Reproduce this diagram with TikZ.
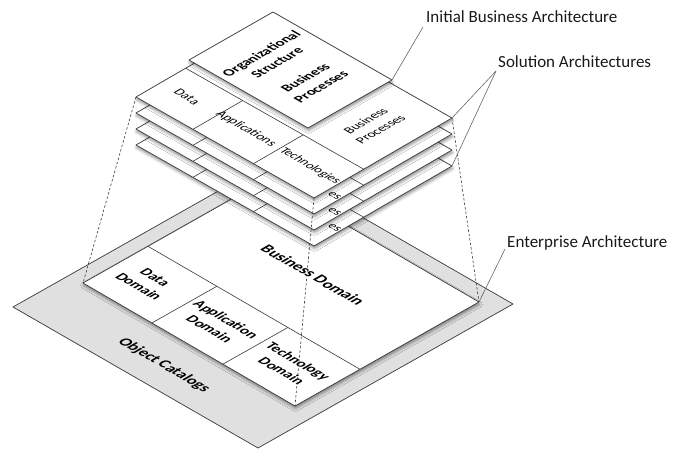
\documentclass[tikz,border=0pt]{standalone}
\usepackage{fontspec}
\setmainfont{Carlito}
\usetikzlibrary{calc,shadows.blur}

\definecolor{rim}{gray}{0.22}
\definecolor{catalog}{gray}{0.88}
\definecolor{leader}{gray}{0.40}

\tikzset{
  plate/.style={fill=white, draw=rim, line width=0.7pt, line join=round},
  catplate/.style={fill=catalog, draw=rim, line width=0.7pt, line join=round},
  soft/.style={blur shadow={shadow xshift=0.5pt, shadow yshift=-2.5pt,
      shadow blur radius=3pt, shadow opacity=45}},
  cell/.style={draw=rim, line width=0.6pt},
  isodown/.style={cm={0.866,-0.5,0.866,0.5,(0,0)}, inner sep=0pt, align=center},
  isoup/.style={cm={0.866,0.5,-0.866,0.5,(0,0)}, inner sep=0pt, align=center},
  projection/.style={draw=rim, line width=0.6pt, dash pattern=on 2.5pt off 2pt},
  leaderline/.style={draw=leader, line width=0.6pt},
  callout/.style={font=\fontsize{17}{20}\selectfont, text=black!90, inner sep=0pt},
  domfont/.style={font=\bfseries\fontsize{14.5}{19}\selectfont},
  solfont/.style={font=\fontsize{13}{17}\selectfont},
  inifont/.style={font=\bfseries\fontsize{14}{18}\selectfont},
}

\begin{document}
\begin{tikzpicture}[x=1pt,y=-1pt]
\useasboundingbox (0,0) rectangle (685,452);

% ---- object catalog base ----
\coordinate (GT) at (268,163);
\coordinate (GR) at (513,304);
\coordinate (GB) at (258,448);
\coordinate (GL) at (13,307);
\path[catplate] (GT) -- (GR) -- (GB) -- (GL) -- cycle;
\node[isodown, font=\bfseries\fontsize{15.5}{19}\selectfont] (catalogs) at (164,365) {Object Catalogs};

% ---- enterprise architecture plate ----
\coordinate (ET) at (267,179);
\coordinate (ER) at (479,302);
\coordinate (EB) at (295,406);
\coordinate (EL) at (83,283);
\path[plate, soft] (ET) -- (ER) -- (EB) -- (EL) -- cycle;
\coordinate (Ea) at ($(ET)!0.647!(EL)$);
\coordinate (Eb) at ($(ER)!0.647!(EB)$);
\draw[cell] (Ea) -- (Eb);
\draw[cell] ($(EL)!0.325!(EB)$) -- ($(Ea)!0.325!(Eb)$);
\draw[cell] ($(EL)!0.66!(EB)$) -- ($(Ea)!0.66!(Eb)$);
\node[isodown, font=\bfseries\fontsize{16}{19}\selectfont] (busdom) at (313,275) {Business Domain};
\node[isodown, domfont] (datadom) at (147,282) {Data\\Domain};
\node[isodown, domfont] (appdom) at (218,324) {Application\\Domain};
\node[isodown, domfont] (techdom) at (290,366) {Technology\\Domain};

% ---- stacked solution architectures (only the top one is fully visible) ----
\foreach \k in {3,2,1,0}{
  \begin{scope}[shift={(0,16*\k)}]
    \coordinate (S\k-T) at (274,17);
    \coordinate (S\k-R) at (452,118);
    \coordinate (S\k-B) at (314,198);
    \coordinate (S\k-L) at (136,97);
    \path[plate, soft] (S\k-T) -- (S\k-R) -- (S\k-B) -- (S\k-L) -- cycle;
    \coordinate (S\k-a) at ($(S\k-T)!0.64!(S\k-L)$);
    \coordinate (S\k-b) at ($(S\k-R)!0.64!(S\k-B)$);
    \draw[cell] (S\k-a) -- (S\k-b);
    \draw[cell] ($(S\k-L)!0.32!(S\k-B)$) -- ($(S\k-a)!0.32!(S\k-b)$);
    \draw[cell] ($(S\k-L)!0.66!(S\k-B)$) -- ($(S\k-a)!0.66!(S\k-b)$);
    \ifnum\k=0
      \node[isodown, solfont] (data\k) at (187,97) {Data};
      \node[isodown, solfont] (apps\k) at (246,129) {Applications};
      \node[isodown, font=\fontsize{12.5}{17}\selectfont] (tech\k) at (310,166) {Technologies};
      \node[isoup, solfont] (proc\k) at (373,125) {Business\\Processes};
    \else
      % tail of the "Technologies" label peeking out below the plate above
      \node[isodown, font=\fontsize{12.5}{17}\selectfont] (tech\k) at (334.5,180) {es};
    \fi
  \end{scope}
}

% ---- initial business architecture plate ----
\coordinate (IT) at (273,12);
\coordinate (IR) at (392,80);
\coordinate (IB) at (308,128);
\coordinate (IL) at (189,60);
\path[plate, soft] (IT) -- (IR) -- (IB) -- (IL) -- cycle;
\node[isoup, inifont] (orgstruct) at (269,58) {Organizational\\Structure};
\node[isoup, inifont] (iniproc) at (313,82) {Business\\Processes};

% ---- projection of the solution stack onto the enterprise plate ----
\draw[projection] (S0-L) -- (EL);
\draw[projection] (S0-B) -- (EB);
\draw[projection] (S0-R) -- (ER);

% ---- callouts ----
\node[callout, anchor=base west] (lblinit) at (426,23) {Initial Business Architecture};
\node[callout, anchor=base west] (lblsol) at (498,67) {Solution Architectures};
\node[callout, anchor=base west] (lblent) at (507,247) {Enterprise Architecture};
\coordinate (pinit) at (423,27);
\coordinate (psol) at (496,71);
\coordinate (pent) at (505,249);
\draw[leaderline] (pinit) -- (IR);
\draw[leaderline] (psol) -- (S0-R);
\draw[leaderline] (psol) -- (S3-R);
\draw[leaderline] (pent) -- (ER);
\end{tikzpicture}
\end{document}
